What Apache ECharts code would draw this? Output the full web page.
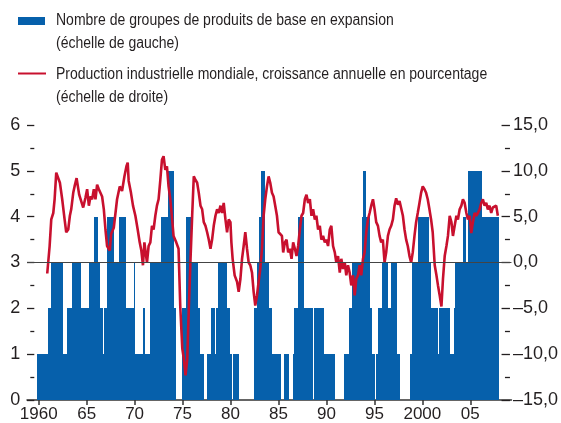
<!DOCTYPE html>
<html lang="fr">
<head>
    <meta charset="UTF-8">
    <title>Produits de base et production industrielle</title>
    <script src="https://cdn.jsdelivr.net/npm/echarts@6.0.0/dist/echarts.min.js"></script>
    <style>
        html, body { margin: 0; padding: 0; background: #fff; }
        #main { width: 561px; height: 423px; }
    </style>
</head>
<body>
<div id="main"></div>
<script type="text/javascript">
    // nombre de groupes en expansion : année du changement -> niveau
    const barYears = [1959.9, 1960.79, 1960.89, 1960.97, 1961.31, 1962.45, 1963.05, 1963.49, 1964.37, 1964.81,
        1964.88, 1965.33, 1965.85, 1966.16, 1966.37, 1966.61, 1966.89, 1967.17, 1967.83, 1968.45,
        1969.10, 1969.98, 1970.04, 1970.94, 1971.05, 1971.70, 1972.85, 1973.54, 1974.06, 1974.30,
        1975.03, 1975.38, 1975.83, 1976.52, 1976.76, 1977.21, 1977.63, 1977.98, 1978.32, 1978.50,
        1978.77, 1979.54, 1979.91, 1980.06, 1980.33, 1980.85, 1982.48, 1982.86, 1983.07, 1983.21,
        1983.55, 1983.97, 1984.32, 1985.18, 1985.60, 1986.01, 1986.53, 1986.71, 1987.05, 1987.57,
        1988.51, 1988.79, 1989.72, 1990.79, 1991.91, 1992.43, 1992.67, 1993.81, 1993.91, 1994.09,
        1994.50, 1994.74, 1995.06, 1995.26, 1995.47, 1995.89, 1996.41, 1996.75, 1997.31, 1997.65,
        1998.80, 1998.93, 1999.56, 2000.67, 2000.88, 2001.57, 2001.74, 2002.85, 2003.30, 2003.47,
        2004.34, 2004.48, 2004.83, 2006.21, 2007.95];
    const barLevels = [1, 0, 1, 2, 3, 1, 2, 3, 2, 1,
        2, 3, 4, 3, 2, 1, 2, 4, 3, 4,
        2, 3, 1, 2, 1, 3, 4, 5, 2, 0,
        2, 4, 3, 2, 1, 0, 1, 2, 1, 2,
        3, 2, 1, 0, 1, 0, 2, 3, 4, 5,
        3, 2, 1, 0, 1, 0, 1, 2, 4, 2,
        0, 2, 1, 0, 1, 2, 3, 4, 5, 4,
        2, 1, 0, 1, 2, 3, 2, 3, 1, 0,
        1, 3, 4, 3, 2, 1, 2, 1, 2, 3,
        4, 3, 5, 4, 0];

    // production industrielle mondiale, % sur un an
    const growthYears = [1960.89, 1961.14, 1961.31, 1961.52, 1961.66, 1961.83, 1962.01, 1962.21, 1962.45, 1962.70,
        1962.87, 1963.08, 1963.25, 1963.39, 1963.60, 1963.74, 1963.95, 1964.08, 1964.22, 1964.43,
        1964.64, 1964.88, 1965.05, 1965.23, 1965.40, 1965.57, 1965.75, 1965.92, 1966.09, 1966.27,
        1966.44, 1966.61, 1966.79, 1966.96, 1967.13, 1967.41, 1967.55, 1967.83, 1968.17, 1968.45,
        1968.69, 1968.94, 1969.15, 1969.28, 1969.38, 1969.62, 1969.83, 1970.08, 1970.32, 1970.53,
        1970.70, 1970.87, 1971.02, 1971.15, 1971.29, 1971.46, 1971.64, 1971.81, 1971.98, 1972.16,
        1972.33, 1972.50, 1972.68, 1972.85, 1973.02, 1973.20, 1973.37, 1973.54, 1973.72, 1973.88,
        1974.06, 1974.34, 1974.58, 1974.76, 1974.97, 1975.13, 1975.31, 1975.49, 1975.65, 1975.83,
        1976.00, 1976.17, 1976.35, 1976.52, 1976.69, 1976.87, 1977.04, 1977.21, 1977.39, 1977.56,
        1977.73, 1977.91, 1978.08, 1978.25, 1978.43, 1978.60, 1978.77, 1978.95, 1979.12, 1979.29,
        1979.47, 1979.64, 1979.81, 1979.99, 1980.09, 1980.22, 1980.43, 1980.68, 1980.85, 1981.03,
        1981.20, 1981.37, 1981.54, 1981.72, 1981.89, 1982.06, 1982.24, 1982.41, 1982.58, 1982.76,
        1982.93, 1983.10, 1983.28, 1983.45, 1983.62, 1983.80, 1983.97, 1984.14, 1984.32, 1984.49,
        1984.66, 1984.84, 1985.01, 1985.18, 1985.36, 1985.49, 1985.67, 1985.84, 1986.01, 1986.19,
        1986.36, 1986.53, 1986.71, 1986.88, 1987.05, 1987.23, 1987.40, 1987.57, 1987.75, 1987.92,
        1988.09, 1988.27, 1988.44, 1988.61, 1988.79, 1988.95, 1989.13, 1989.31, 1989.47, 1989.65,
        1989.83, 1989.99, 1990.17, 1990.35, 1990.51, 1990.69, 1990.87, 1991.03, 1991.21, 1991.39,
        1991.55, 1991.73, 1991.91, 1992.07, 1992.25, 1992.42, 1992.59, 1992.77, 1992.95, 1993.11,
        1993.29, 1993.46, 1993.63, 1993.81, 1993.98, 1994.15, 1994.33, 1994.50, 1994.67, 1994.85,
        1995.02, 1995.19, 1995.37, 1995.54, 1995.71, 1995.88, 1996.06, 1996.23, 1996.41, 1996.58,
        1996.75, 1996.93, 1997.10, 1997.27, 1997.45, 1997.62, 1997.79, 1997.97, 1998.14, 1998.31,
        1998.48, 1998.66, 1998.83, 1999.00, 1999.18, 1999.35, 1999.52, 1999.70, 1999.87, 2000.04,
        2000.22, 2000.39, 2000.56, 2000.74, 2000.91, 2001.08, 2001.29, 2001.47, 2001.63, 2001.81,
        2001.99, 2002.15, 2002.33, 2002.51, 2002.67, 2002.85, 2003.03, 2003.19, 2003.37, 2003.55,
        2003.71, 2003.89, 2004.07, 2004.23, 2004.41, 2004.59, 2004.75, 2004.93, 2005.10, 2005.27,
        2005.45, 2005.62, 2005.79, 2005.97, 2006.14, 2006.31, 2006.49, 2006.66, 2006.83, 2007.01,
        2007.18, 2007.35, 2007.53, 2007.70, 2007.87];
    const growthValues = [-1.2, 1.8, 4.7, 5.4, 6.9, 9.8, 9.8, 8.7, 6.9, 4.7,
        3.3, 3.6, 5.1, 5.8, 7.6, 8.3, 9.2, 9.4, 7.4, 6.7,
        6.0, 7.1, 8.0, 6.2, 7.2, 6.9, 8.0, 6.9, 8.5, 8.0,
        8.1, 7.2, 5.8, 3.6, 1.8, 1.3, 3.1, 3.8, 6.9, 8.3,
        7.8, 9.4, 10.5, 10.9, 8.9, 7.6, 6.2, 5.1, 3.6, 2.2,
        1.3, -0.3, 2.2, 1.1, 0.0, 1.8, 2.2, 4.0, 3.6, 5.1,
        6.2, 6.9, 9.0, 11.2, 11.6, 10.1, 10.5, 8.3, 6.9, 5.1,
        2.9, 2.2, 1.5, -4.8, -9.4, -10.5, -12.3, -10.5, -5.0, 0.4,
        5.1, 9.4, 9.0, 8.7, 7.6, 6.2, 5.8, 4.4, 4.0, 3.3,
        2.5, 1.5, 2.5, 4.0, 5.1, 5.8, 5.4, 6.2, 5.4, 6.5,
        4.7, 3.3, 4.7, 4.4, 2.2, 0.4, -1.4, -2.1, -3.2, -1.8,
        0.4, 1.8, 3.3, 1.5, 0.0, -0.3, -1.1, -3.2, -4.7, -3.6,
        -2.1, -0.7, 1.5, 5.1, 6.9, 8.3, 9.4, 8.7, 7.6, 7.2,
        6.2, 5.1, 3.3, 3.3, 2.9, 1.1, 2.2, 2.5, 1.1, 1.5,
        0.4, 2.2, 1.5, 0.7, 1.8, 3.6, 5.1, 5.4, 6.9, 7.4,
        6.5, 6.9, 5.1, 5.8, 4.7, 5.1, 3.6, 4.0, 2.5, 2.9,
        2.2, 2.5, 1.8, 3.6, 4.0, 1.8, 1.1, 0.0, 0.7, -1.1,
        0.4, -0.7, 0.0, -1.4, -0.3, -1.1, -2.5, -1.4, -3.6, -1.8,
        -1.4, -0.3, -1.4, 0.4, 1.1, 3.3, 4.7, 5.4, 6.2, 6.9,
        5.8, 4.4, 4.0, 2.9, 2.2, 2.5, 0.0, 1.1, 2.9, 3.6,
        4.0, 4.7, 6.2, 7.0, 6.3, 6.7, 6.5, 5.1, 3.6, 2.5,
        1.8, 0.7, 0.0, 1.1, 2.9, 4.4, 5.4, 6.5, 7.6, 8.3,
        8.0, 7.6, 6.9, 5.8, 4.7, 3.3, -0.3, -1.4, -2.5, -3.6,
        -4.8, -1.8, 0.7, 1.8, 2.9, 5.1, 4.4, 2.9, 4.0, 5.1,
        4.7, 5.8, 6.2, 6.9, 6.5, 5.4, 4.7, 5.1, 3.2, 4.4,
        5.4, 5.1, 5.4, 5.8, 6.5, 6.9, 6.2, 6.5, 5.8, 6.2,
        5.4, 6.0, 5.8, 6.2, 5.1];

    const xTickYears = [1960, 1965, 1970, 1975, 1980, 1985, 1990, 1995, 2000, 2005];
    const xTickLabels = ['1960', '65', '70', '75', '80', '85', '90', '95', '2000', '05'];

    const legendNames = [
        'Nombre de groupes de produits de base en expansion\n(échelle de gauche)',
        'Production industrielle mondiale, croissance annuelle en pourcentage\n(échelle de droite)'
    ];

    const BLUE = '#0660ab';
    const RED = '#c8102e';
    const INK = '#231f20';
    const FONT = "'Liberation Sans', Arial, sans-serif";

    // un bloc par palier : [début, fin, niveau]
    const barRuns = [];
    for (let i = 0; i < barYears.length - 1; i++) {
        if (barLevels[i] > 0) barRuns.push([barYears[i], barYears[i + 1], barLevels[i]]);
    }
    const growthData = growthYears.map((y, i) => [y, growthValues[i]]);

    function fmtRight(v) {
        return v.toFixed(1).replace('.', ',').replace('-', '\u2013');
    }

    function renderRun(params, api) {
        const top = api.coord([api.value(0), api.value(2)]);
        const base = api.coord([api.value(1), 0]);
        // petit recouvrement pour éviter les filets blancs entre paliers voisins
        const x0 = Math.floor(top[0]);
        const x1 = Math.ceil(base[0]);
        return {
            type: 'rect',
            shape: {x: x0, y: Math.round(top[1]), width: x1 - x0, height: Math.round(base[1]) - Math.round(top[1])},
            style: {fill: BLUE}
        };
    }

    const myChart = echarts.init(document.getElementById('main'), null, {renderer: 'canvas'});
    const option = {
        animation: false,
        textStyle: {fontFamily: FONT, color: INK},
        grid: {left: 27, right: 48, top: 125, bottom: 21},
        xAxis: {
            type: 'value',
            min: 1958.78,
            max: 2009.29,
            axisLine: {lineStyle: {color: '#333', width: 1.5}},
            axisTick: {
                show: true, length: 5, inside: false,
                lineStyle: {color: '#333', width: 1.5},
                customValues: xTickYears
            },
            axisLabel: {
                customValues: xTickYears,
                formatter: v => xTickLabels[xTickYears.indexOf(Math.round(v))],
                fontSize: 17, color: INK, fontFamily: FONT, margin: 6
            },
            splitLine: {show: false}
        },
        yAxis: [{
            type: 'value', position: 'left',
            min: 0, max: 6, interval: 1,
            offset: -7.3,
            axisLine: {show: false},
            axisTick: {show: true, length: 7.3, inside: false, lineStyle: {color: INK, width: 1.3}},
            minorTick: {show: true, splitNumber: 2, length: 4, lineStyle: {color: INK, width: 1.3}},
            axisLabel: {fontSize: 18, color: INK, fontFamily: FONT, margin: 14},
            splitLine: {show: false}
        }, {
            type: 'value', position: 'right',
            min: -15, max: 15, interval: 5,
            offset: -1.5,
            axisLine: {show: false},
            axisTick: {show: true, length: 8.4, inside: true, lineStyle: {color: INK, width: 1.3}},
            minorTick: {show: true, splitNumber: 2, length: 5, lineStyle: {color: INK, width: 1.3}},
            axisLabel: {fontSize: 18, color: INK, fontFamily: FONT, margin: 3, formatter: fmtRight},
            splitLine: {show: false}
        }],
        series: [{
            name: legendNames[0],
            type: 'custom',
            yAxisIndex: 0,
            data: barRuns,
            encode: {x: [0, 1], y: 2},
            renderItem: renderRun,
            z: 1
        }, {
            name: 'zero',
            type: 'line',
            yAxisIndex: 0,
            data: [],
            z: 2,
            markLine: {
                silent: true,
                symbol: 'none',
                label: {show: false},
                lineStyle: {color: '#444', width: 1.2, type: 'solid'},
                data: [{yAxis: 3}]
            }
        }, {
            name: legendNames[1],
            type: 'line',
            yAxisIndex: 1,
            data: growthData,
            symbol: 'none',
            lineStyle: {width: 2.6, color: RED},
            z: 3
        }],
        graphic: [
            {type: 'rect', left: 18, top: 17, shape: {width: 27, height: 8}, style: {fill: BLUE}},
            {type: 'line', shape: {x1: 18, y1: 73.5, x2: 46, y2: 73.5}, style: {stroke: RED, lineWidth: 2}},
            {type: 'text', x: 56, y: 9, scaleX: 0.875,
                style: {text: legendNames[0], font: '16px ' + FONT, fill: INK, lineHeight: 23}},
            {type: 'text', x: 56, y: 63, scaleX: 0.875,
                style: {text: legendNames[1], font: '16px ' + FONT, fill: INK, lineHeight: 23}}
        ]
    };
    myChart.setOption(option);
</script>
</body>
</html>
